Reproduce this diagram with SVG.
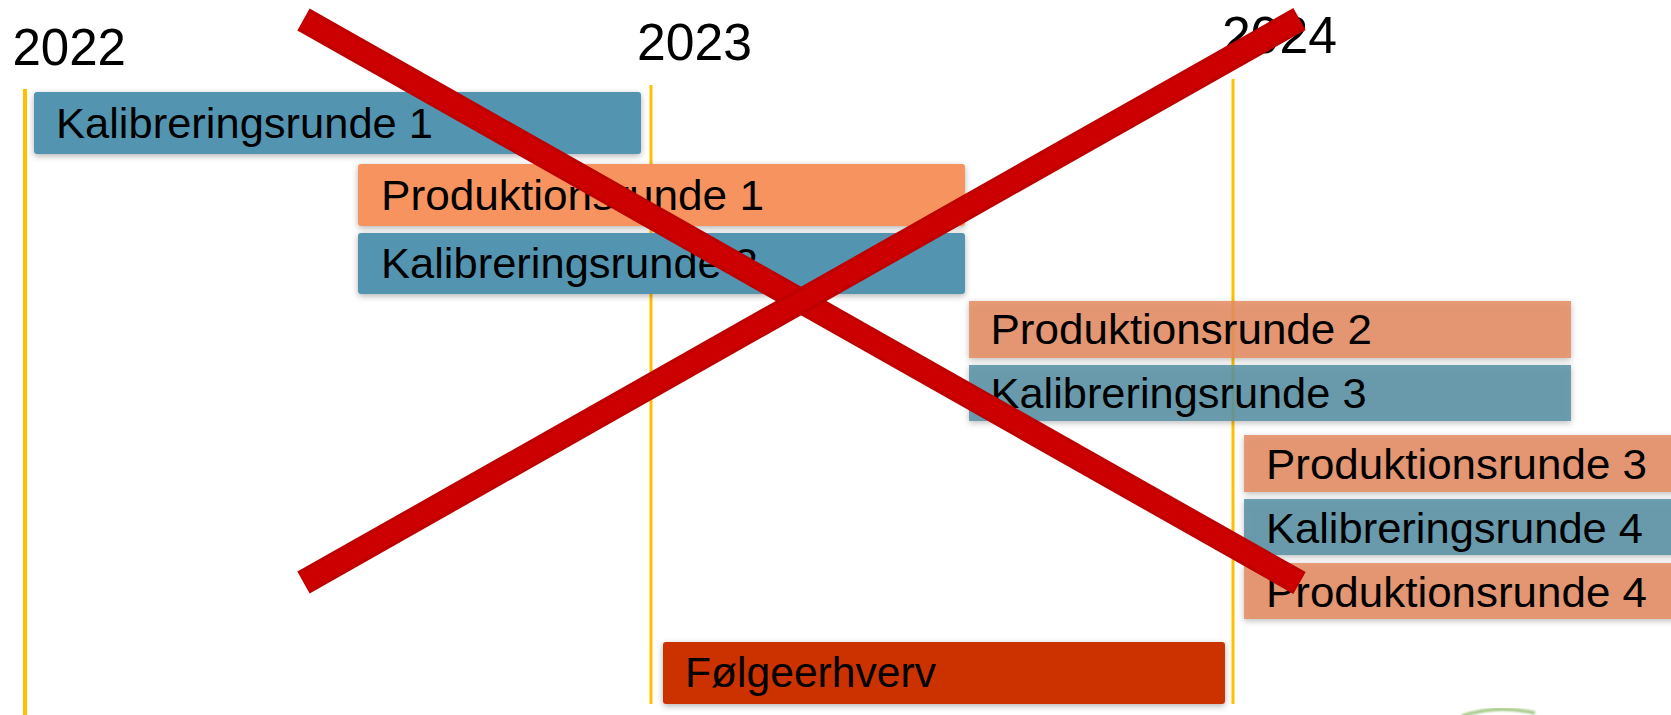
<svg xmlns="http://www.w3.org/2000/svg" width="1671" height="715" viewBox="0 0 1671 715">
<defs>
<style>
.t{font-family:"Liberation Sans",Arial,sans-serif;font-size:42px;fill:#000}
.y{font-family:"Liberation Sans",Arial,sans-serif;font-size:52px;fill:#000}
.grid{stroke:#FFC000;fill:none}
.kal1{fill:#5295B0}
.pro1{fill:#F7935E}
.pro2{fill:#E48C61;fill-opacity:.85}
.kal2{fill:#5890A4;fill-opacity:.85}
.folg{fill:#CC3300}
.bar{filter:url(#sh)}
.xo{stroke:#BE0000;stroke-width:25;stroke-linecap:butt}
.xi{stroke:#CC0000;stroke-width:19;stroke-linecap:butt}
</style>
<filter id="sh" x="-5%" y="-30%" width="110%" height="170%">
<feDropShadow dx="0" dy="2" stdDeviation="3" flood-color="#000" flood-opacity="0.3"/>
</filter>
<filter id="bl"><feGaussianBlur stdDeviation="1.2"/></filter>
</defs>
<rect width="1671" height="715" fill="#fff"/>

<g id="years">
<text class="y" x="12.5" y="65" textLength="113.5" lengthAdjust="spacingAndGlyphs">2022</text>
<text class="y" x="637" y="60" textLength="115" lengthAdjust="spacingAndGlyphs">2023</text>
<text class="y" x="1222" y="53" textLength="115" lengthAdjust="spacingAndGlyphs">2024</text>
</g>

<g id="gridlines">
<line class="grid" x1="25" y1="89" x2="25" y2="715" stroke-width="4"/>
<line class="grid" x1="651" y1="85" x2="651" y2="704" stroke-width="3"/>
<line class="grid" x1="1233" y1="79" x2="1233" y2="704" stroke-width="3"/>
</g>

<g id="kalibreringsrunde1">
<rect class="bar kal1" x="34" y="92" width="607" height="62" rx="3"/>
<text class="t" x="56" y="138" textLength="377" lengthAdjust="spacingAndGlyphs">Kalibreringsrunde 1</text>
</g>
<g id="produktionsrunde1">
<rect class="bar pro1" x="358" y="164" width="607" height="62" rx="3"/>
<text class="t" x="381" y="210" textLength="383" lengthAdjust="spacingAndGlyphs">Produktionsrunde 1</text>
</g>
<g id="kalibreringsrunde2">
<rect class="bar kal1" x="358" y="233" width="607" height="61" rx="3"/>
<text class="t" x="381" y="278" textLength="377" lengthAdjust="spacingAndGlyphs">Kalibreringsrunde 2</text>
</g>
<g id="produktionsrunde2">
<rect class="bar pro2" x="969" y="301" width="602" height="57"/>
<text class="t" x="990.5" y="344" textLength="381.5" lengthAdjust="spacingAndGlyphs">Produktionsrunde 2</text>
</g>
<g id="kalibreringsrunde3">
<rect class="bar kal2" x="969" y="365" width="602" height="56"/>
<text class="t" x="990.5" y="408" textLength="376" lengthAdjust="spacingAndGlyphs">Kalibreringsrunde 3</text>
</g>
<g id="produktionsrunde3">
<rect class="bar pro2" x="1244" y="435" width="440" height="57"/>
<text class="t" x="1266" y="479" textLength="381" lengthAdjust="spacingAndGlyphs">Produktionsrunde 3</text>
</g>
<g id="kalibreringsrunde4">
<rect class="bar kal2" x="1244" y="499" width="440" height="56"/>
<text class="t" x="1266" y="543" textLength="377" lengthAdjust="spacingAndGlyphs">Kalibreringsrunde 4</text>
</g>
<g id="produktionsrunde4">
<rect class="bar pro2" x="1244" y="563" width="440" height="56"/>
<text class="t" x="1266" y="607" textLength="381" lengthAdjust="spacingAndGlyphs">Produktionsrunde 4</text>
</g>
<g id="foelgeerhverv">
<rect class="bar folg" x="663" y="642" width="562" height="62" rx="3"/>
<text class="t" x="685" y="687" textLength="251" lengthAdjust="spacingAndGlyphs">Følgeerhverv</text>
</g>

<g id="logo-fragment" filter="url(#bl)">
<path d="M1462,716 Q1497,704 1535,713" fill="none" stroke="#9BC47A" stroke-width="3"/>
</g>

<g id="connectors">
<line class="xo" x1="303.5" y1="19.5" x2="1299.5" y2="583"/>
<line class="xi" x1="304.5" y1="20" x2="1298.5" y2="582.5"/>
<line class="xo" x1="303.5" y1="582.5" x2="1299.5" y2="19"/>
<line class="xi" x1="304.5" y1="582" x2="1298.5" y2="19.5"/>
</g>
</svg>
